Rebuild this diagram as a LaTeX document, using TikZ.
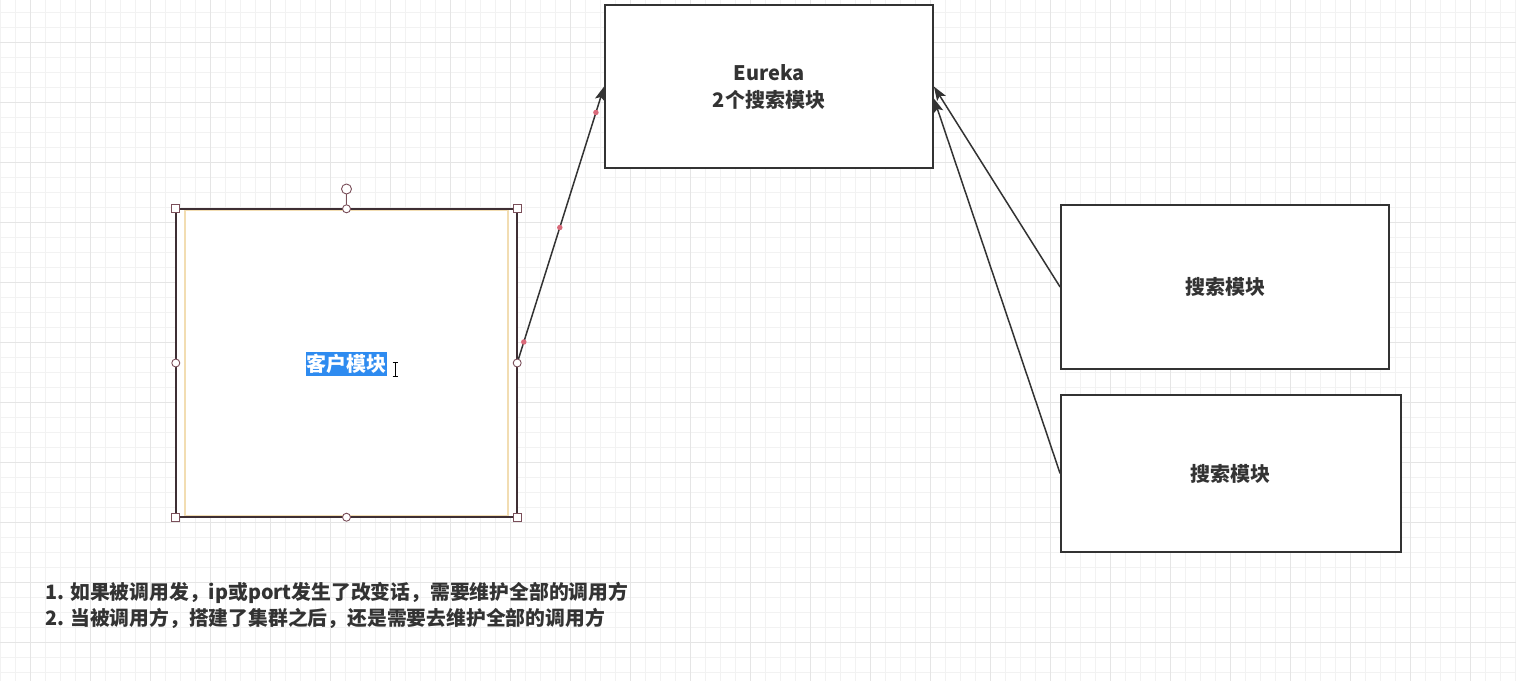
\documentclass[tikz,border=0pt]{standalone}
\usepackage{fontspec}
\setmainfont{Noto Sans CJK SC}
\usetikzlibrary{arrows.meta}
\definecolor{ink}{HTML}{333333}
\definecolor{gridminor}{HTML}{F2F2F2}
\definecolor{gridmajor}{HTML}{E5E5E5}
\definecolor{selbrown}{HTML}{3E2F34}
\definecolor{handle}{HTML}{7A4F5A}
\definecolor{wheatline}{HTML}{F2DDB2}
\definecolor{selblue}{HTML}{2E8BF0}
\definecolor{dotred}{HTML}{D96A7A}
\tikzset{
  box/.style={draw=ink, line width=1.8pt, fill=white, inner sep=0pt},
  lbl/.style={font=\bfseries\fontsize{20}{27}\selectfont, text=ink, align=center},
  conn/.style={draw=ink, line width=1.5pt, -{Stealth[length=14pt,width=10pt,inset=3pt]}},
  sqhandle/.style={draw=handle, fill=white, line width=0.9pt, minimum size=8pt, inner sep=0pt, rectangle},
  cihandle/.style={draw=handle, fill=white, line width=0.9pt, minimum size=8pt, inner sep=0pt, circle},
  wdot/.style={fill=dotred, circle, inner sep=0pt, minimum size=5.5pt},
}
\begin{document}
\begin{tikzpicture}[x=1pt,y=-1pt]
\useasboundingbox (0,0) rectangle (1516,681);
\fill[white] (0,0) rectangle (1516,681);
% grid
\foreach \x in {0,15,...,1515} \draw[gridminor, line width=1pt] (\x,0) -- (\x,681);
\foreach \y in {12,27,...,680} \draw[gridminor, line width=1pt] (0,\y) -- (1516,\y);
\foreach \x in {30,90,...,1515} \draw[gridmajor, line width=1pt] (\x,0) -- (\x,681);
\foreach \y in {42,102,...,680} \draw[gridmajor, line width=1pt] (0,\y) -- (1516,\y);

% boxes
\node[box, minimum width=328pt, minimum height=163pt] (eureka) at (769,86.5) {};
\node[lbl] (eurekatext) at ([yshift=-0.5pt]eureka.center) {Eureka\\2个搜索模块};
\node[box, minimum width=328pt, minimum height=164pt] (search1) at (1225,287) {};
\node[lbl] (search1text) at (search1.center) {搜索模块};
\node[box, minimum width=340pt, minimum height=157pt] (search2) at (1231,473.5) {};
\node[lbl] (search2text) at ([xshift=-1pt]search2.center) {搜索模块};

% selected client box
\node[draw=none, fill=white, minimum width=341pt, minimum height=308pt, inner sep=0pt] (client) at (346.5,363) {};
\draw[wheatline, line width=1.8pt] (185,210) rectangle (508,516);
\draw[selbrown, line width=1.6pt] (client.north west) rectangle (client.south east);
\node[fill=selblue, text=white, font=\bfseries\fontsize{20}{24}\selectfont, inner sep=0pt, minimum height=24pt, minimum width=81pt] (clienttext) at (346.5,364) {客户模块};
% text cursor
\coordinate (cur) at (395,369);
\draw[black, line width=0.9pt] ([yshift=7pt]cur) -- ([yshift=-7pt]cur);
\draw[black, line width=0.9pt] ([xshift=-2.5pt,yshift=7pt]cur) -- ([xshift=2.5pt,yshift=7pt]cur);
\draw[black, line width=0.9pt] ([xshift=-2.5pt,yshift=-7pt]cur) -- ([xshift=2.5pt,yshift=-7pt]cur);

% rotation handle
\node[cihandle, minimum size=10pt] (rot) at (346.5,189) {};
\draw[handle, line width=1pt] (rot.south) -- (client.north);

% connectors
\draw[conn] (client.east) -- (eureka.west)
  node[pos=0.076, wdot] (d1) {}
  node[pos=0.49, wdot] (d2) {}
  node[pos=0.906, wdot] (d3) {};
\draw[conn] (search1.west) -- (eureka.east);
\draw[conn] (search2.west) -- ([yshift=-12pt]eureka.east);

% selection handles
\node[sqhandle] (hnw) at (client.north west) {};
\node[sqhandle] (hne) at (client.north east) {};
\node[sqhandle] (hsw) at (client.south west) {};
\node[sqhandle] (hse) at (client.south east) {};
\node[cihandle] (hn) at (client.north) {};
\node[cihandle] (hs) at (client.south) {};
\node[cihandle] (hw) at (client.west) {};
\node[cihandle] (he) at (client.east) {};

% notes
\node[font=\bfseries\fontsize{19.8}{26}\selectfont, text=ink, align=left, anchor=west, inner sep=0pt] (notes) at (45,605)
  {1. 如果被调用发，ip或port发生了改变话，需要维护全部的调用方\\2. 当被调用方，搭建了集群之后，还是需要去维护全部的调用方};
\end{tikzpicture}
\end{document}
